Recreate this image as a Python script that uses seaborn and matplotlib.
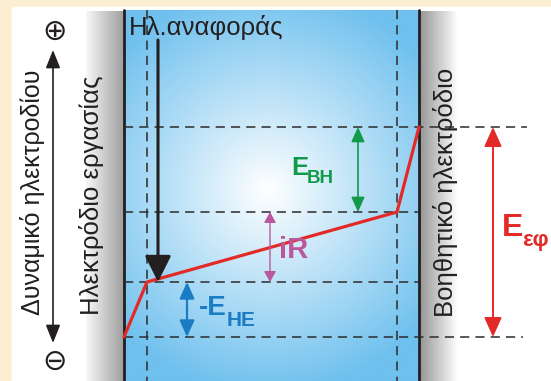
import numpy as np
import matplotlib
matplotlib.use("Agg")
import matplotlib.pyplot as plt
import seaborn as sns
import pandas as pd
from matplotlib.patches import Rectangle

sns.set_theme(style="white")
plt.rcParams['font.family'] = ['Liberation Sans', 'DejaVu Sans']

# ---- diagram data (diagram units, y grows downward) ----
profile_x = [124, 147, 397, 419]          # potential profile positions
profile_y = [337, 282, 212, 127]          # potential levels along profile
level_y = [127, 212, 282, 337]            # dashed potential levels
level_x_end = [527, 419, 419, 523]
probe_x = [147, 397]                      # vertical dashed lines
electrode_x = [124, 419]

title_ref = "Ηλ.αναφοράς"
label_axis = "Δυναμικό ηλεκτροδίου"
label_we = "Ηλεκτρόδιο εργασίας"
label_ce = "Βοηθητικό ηλεκτρόδιο"

W, H = 551, 381
fig = plt.figure(figsize=(W / 100, H / 100), dpi=100)
fig.patch.set_facecolor("#FCEED3")
ax = fig.add_axes([0, 0, 1, 1])
ax.set_xlim(0, W)
ax.set_ylim(H, 0)
ax.axis("off")

# white panel
ax.add_patch(Rectangle((12, 7), W - 12, H - 7, color="white", zorder=0))

# blue solution with radial gradient
nx, ny = 300, 372
xs = np.linspace(124, 419, nx)
ys = np.linspace(10, 381, ny)
X, Y = np.meshgrid(xs, ys)
r = np.sqrt(((X - 268) / 1.0) ** 2 + ((Y - 190) / 1.0) ** 2)
t = np.clip(r / 205.0, 0, 1) ** 1.0
blue = np.array([0x6E, 0xC0, 0xEE]) / 255.0
white = np.array([1.0, 1.0, 1.0])
img = white[None, None, :] * (1 - t[..., None]) + blue[None, None, :] * t[..., None]
ax.imshow(img, extent=(124, 419, 381, 10), aspect="auto", zorder=1, interpolation="bilinear")

# grey electrodes
left_g = np.linspace(0.97, 0.62, 100)
img_l = np.repeat(left_g[None, :, None], 3, axis=2)
ax.imshow(img_l, extent=(86, 124, 381, 11), aspect="auto", zorder=1)
right_g = np.linspace(0.58, 1.0, 100)
img_r = np.repeat(right_g[None, :, None], 3, axis=2)
ax.imshow(img_r, extent=(419, 458, 381, 11), aspect="auto", zorder=1)

# electrode boundaries
for ex in electrode_x:
    ax.plot([ex, ex], [10, 381], color="#231F20", lw=2.0, zorder=3)

# dashed levels
dash = (0, (6, 4))
for ly, xe in zip(level_y, level_x_end):
    ax.plot([124, xe], [ly, ly], color="#2B2B2B", lw=1.1, ls=dash, zorder=4)
for px in probe_x:
    ax.plot([px, px], [10, 381], color="#2B2B2B", lw=1.1, ls=dash, zorder=4)

# potential profile
prof = pd.DataFrame({"x": profile_x, "y": profile_y})
sns.lineplot(data=prof, x="x", y="y", sort=False, color="#E42A27", lw=2.3, ax=ax, zorder=6)
ax.set_xlim(0, W)
ax.set_ylim(H, 0)
ax.axis("off")

def arrow(x0, y0, x1, y1, style, color, lw, ms):
    ax.annotate("", xy=(x1, y1), xytext=(x0, y0),
                arrowprops=dict(arrowstyle=style, color=color, lw=lw,
                                mutation_scale=ms, shrinkA=0, shrinkB=0),
                zorder=7)

# reference electrode arrow
arrow(158, 40, 158, 282, "-|>,head_length=1.0,head_width=0.5", "#231F20", 2.2, 16)
# potential axis arrow
arrow(53, 343, 53, 50, "<|-|>,head_length=1.0,head_width=0.4", "#231F20", 1.2, 11)
# component arrows
arrow(358, 212, 358, 127, "<|-|>,head_length=1.0,head_width=0.45", "#12994A", 1.2, 9)
arrow(270, 282, 270, 212, "<|-|>,head_length=0.8,head_width=0.45", "#BA589D", 1.0, 8)
arrow(187, 337, 187, 282, "<|-|>,head_length=1.0,head_width=0.45", "#1B7CC3", 1.6, 10)
arrow(493, 337, 493, 127, "<|-|>,head_length=1.0,head_width=0.45", "#E42A27", 1.4, 12)

# texts
ax.text(129, 35, title_ref, fontsize=18.5, color="#231F20", ha="left", va="baseline", zorder=8)
ax.text(33, 192, label_axis, fontsize=18, rotation=90, ha="center", va="center", color="#231F20", zorder=8)
ax.text(92, 195, label_we, fontsize=18.5, rotation=90, ha="center", va="center", color="#231F20", zorder=8)
ax.text(445, 192, label_ce, fontsize=18.5, rotation=90, ha="center", va="center", color="#231F20", zorder=8)
ax.text(55, 32, "⊕", fontsize=21, ha="center", va="center", family=["DejaVu Sans"], color="#231F20", zorder=8)
ax.text(55, 362, "⊖", fontsize=21, ha="center", va="center", family=["DejaVu Sans"], color="#231F20", zorder=8)

ax.text(291, 175, "E", fontsize=18.5, fontweight="bold", color="#12994A", ha="left", va="baseline", zorder=8)
ax.text(307, 183, "ΒΗ", fontsize=13.5, fontweight="bold", color="#12994A", ha="left", va="baseline", zorder=8)

ax.text(279, 258, "iR", fontsize=21, fontweight="bold", color="#BA589D", ha="left", va="baseline", zorder=8)

ax.text(199, 315, "-E", fontsize=20, fontweight="bold", color="#1B7CC3", ha="left", va="baseline", zorder=8)
ax.text(227, 326, "ΗΕ", fontsize=15, fontweight="bold", color="#1B7CC3", ha="left", va="baseline", zorder=8)

ax.text(502, 236, "E", fontsize=23, fontweight="bold", color="#E42A27", ha="left", va="baseline", zorder=8)
ax.text(522, 246, "εφ", fontsize=16, fontweight="bold", color="#E42A27", ha="left", va="baseline", zorder=8)

fig.savefig("out.png", dpi=100, facecolor=fig.get_facecolor())
